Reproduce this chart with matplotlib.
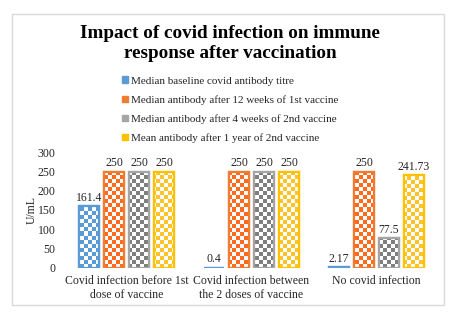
import numpy as np
import matplotlib
matplotlib.use("Agg")
import matplotlib.pyplot as plt
from matplotlib.patches import Patch, Rectangle
from matplotlib.colors import to_rgb

plt.rcParams['font.family'] = ['Liberation Serif', 'DejaVu Serif']

categories = ["Covid infection before 1st\ndose of vaccine",
              "Covid infection between\nthe 2 doses of vaccine",
              "No covid infection"]
series_names = ["Median baseline covid antibody titre",
                "Median antibody after 12 weeks of 1st vaccine",
                "Median antibody after 4 weeks of 2nd vaccine",
                "Mean antibody after 1 year of 2nd vaccine"]
baseline = [161.4, 0.4, 2.17]
after_1st = [250, 250, 250]
after_2nd_4w = [250, 250, 77.5]
after_2nd_1y = [250, 250, 241.73]
value_labels = [["161.4", "0.4", "2.17"],
                ["250", "250", "250"],
                ["250", "250", "77.5"],
                ["250", "250", "241.73"]]
series = [baseline, after_1st, after_2nd_4w, after_2nd_1y]
edge_colors = ["#5B9BD5", "#ED7D31", "#A5A5A5", "#FFC000"]
check_colors = ["#5B9BD5", "#FF6A1F", "#7F7F7F", "#FFC32A"]

W, H = 462, 326
fig = plt.figure(figsize=(W / 100, H / 100), dpi=100)
fig.patch.set_facecolor("white")

# outer border
fig.add_artist(Rectangle((12 / W, 1 - 305 / H), (444 - 12) / W, (305 - 14) / H,
                         transform=fig.transFigure, fill=False,
                         edgecolor="#D9D9D9", linewidth=1.0))

ax_l, ax_r, ax_t, ax_b = 64, 439, 152.3, 267.7
ax = fig.add_axes([ax_l / W, 1 - ax_b / H, (ax_r - ax_l) / W, (ax_b - ax_t) / H])
ax.set_xlim(-0.5, 2.5)
ax.set_ylim(0, 300)

x = np.arange(len(categories))
width = 0.16
offsets = [-0.3, -0.1, 0.1, 0.3]

# checkerboard images (4px squares over axes area)
nx = int((ax_r - ax_l) / 4) + 1
ny = int((ax_b - ax_t) / 4) + 1
yy, xx = np.mgrid[0:ny, 0:nx]
mask = ((xx + yy) % 2 == 0)

for i, (vals, ec, cc) in enumerate(zip(series, edge_colors, check_colors)):
    bars = ax.bar(x + offsets[i], vals, width, facecolor="white",
                  edgecolor=ec, linewidth=1.6, zorder=2)
    img = np.ones((ny, nx, 3))
    img[mask] = to_rgb(cc)
    for b in bars:
        im = ax.imshow(img, extent=(-0.5, 2.5, 0, 300 * ny * 4 / (ax_b - ax_t)),
                       origin="lower", interpolation="nearest", aspect="auto",
                       zorder=2.5)
        im.set_clip_path(b)
        ax.add_patch(Rectangle(b.get_xy(), b.get_width(), b.get_height(),
                               fill=False, edgecolor=ec, linewidth=1.6, zorder=3))
    for xi, v, lab in zip(x + offsets[i], vals, value_labels[i]):
        ax.annotate(lab, (xi, v), xytext=(0, 1.5), textcoords="offset points",
                    ha="center", va="bottom", fontsize=8.5, color="#262626")

ax.set_xlim(-0.5, 2.5)
ax.set_ylim(0, 300)
for s in ax.spines.values():
    s.set_visible(False)
ax.set_yticks(np.arange(0, 301, 50))
ax.set_xticks(x)
ax.set_xticklabels(categories, fontsize=8.2, color="#262626", linespacing=1.25)
ax.tick_params(axis="both", length=0, labelsize=8.5, labelcolor="#262626")
ax.tick_params(axis="y", pad=6)
ax.tick_params(axis="x", pad=5)
ax.set_ylabel("U/mL", fontsize=8.5, color="#262626", labelpad=0)

fig.text(230 / W, 1 - 43.5 / H,
         "Impact of covid infection on immune\nresponse after vaccination",
         ha="center", va="center", fontsize=13.8, fontweight="bold",
         linespacing=1.2, color="black")

handles = [Patch(facecolor=c, edgecolor=c) for c in edge_colors]
leg = fig.legend(handles, series_names, loc="upper left",
                 bbox_to_anchor=(122 / W, 1 - 76.5 / H), frameon=False,
                 fontsize=8, handlelength=0.55, handleheight=0.55,
                 handletextpad=0.3, labelspacing=0.84, borderpad=0,
                 borderaxespad=0)
for t in leg.get_texts():
    t.set_color("#262626")

fig.savefig("out.png", dpi=100)
